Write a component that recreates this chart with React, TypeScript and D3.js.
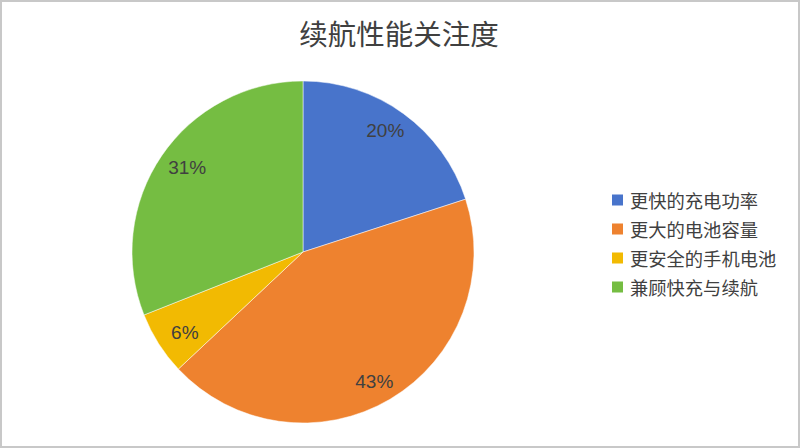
import { useMemo } from 'react';
import * as d3 from 'd3';

const WIDTH = 800;
const HEIGHT = 448;

const TITLE = '续航性能关注度';
const CATEGORIES = ['更快的充电功率', '更大的电池容量', '更安全的手机电池', '兼顾快充与续航'];
const VALUES = [20, 43, 6, 31];
const COLORS = ['#4874CB', '#EE822F', '#F2BA02', '#75BD42'];

const FONT = '"Noto Sans CJK SC", "Noto Sans", sans-serif';
const NUM_FONT = '"Liberation Sans", Arial, "Noto Sans CJK SC", sans-serif';
const TEXT_COLOR = '#404040';

const PIE_CENTER = { x: 303, y: 252 };
const RADIUS = 171;
const LABEL_RX = 140;
const LABEL_RY = 150;

export default function App() {
  const slices = useMemo(() => {
    const pie = d3
      .pie<number>()
      .sort(null)
      .value((d) => d);
    return pie(VALUES);
  }, []);

  const arc = d3.arc<d3.PieArcDatum<number>>().innerRadius(0).outerRadius(RADIUS);
  const total = d3.sum(VALUES);

  const legendY = d3
    .scalePoint<number>()
    .domain(CATEGORIES.map((_, i) => i))
    .range([200, 287]);

  return (
    <svg
      width={WIDTH}
      height={HEIGHT}
      viewBox={`0 0 ${WIDTH} ${HEIGHT}`}
      style={{ position: 'absolute', left: 0, top: 0, display: 'block', background: '#ffffff' }}
    >
      <rect x={1} y={1} width={WIDTH - 2} height={HEIGHT - 2} fill="#ffffff" stroke="#c8c8c8" strokeWidth={2} />

      <text
        x={399}
        y={32}
        textAnchor="middle"
        dominantBaseline="central"
        fontFamily={FONT}
        fontSize={28.5}
        fill={TEXT_COLOR}
      >
        {TITLE}
      </text>

      <g transform={`translate(${PIE_CENTER.x}, ${PIE_CENTER.y})`}>
        {slices.map((s, i) => (
          <path key={CATEGORIES[i]} d={arc(s) ?? ''} fill={COLORS[i]} stroke="#ffffff" strokeWidth={0.5} />
        ))}
        {slices.map((s, i) => {
          const mid = (s.startAngle + s.endAngle) / 2;
          const x = Math.sin(mid) * LABEL_RX;
          const y = -Math.cos(mid) * LABEL_RY;
          return (
            <text
              key={`label-${CATEGORIES[i]}`}
              x={x}
              y={y}
              textAnchor="middle"
              dominantBaseline="central"
              fontFamily={NUM_FONT}
              fontSize={19}
              fill={TEXT_COLOR}
            >
              {`${Math.round((s.value / total) * 100)}%`}
            </text>
          );
        })}
      </g>

      <g>
        {CATEGORIES.map((c, i) => (
          <g key={c} transform={`translate(612, ${legendY(i)})`}>
            <rect x={0} y={-5.5} width={11} height={11} fill={COLORS[i]} />
            <text
              x={18}
              y={0}
              dominantBaseline="central"
              fontFamily={FONT}
              fontSize={18.3}
              fill={TEXT_COLOR}
            >
              {c}
            </text>
          </g>
        ))}
      </g>
    </svg>
  );
}
